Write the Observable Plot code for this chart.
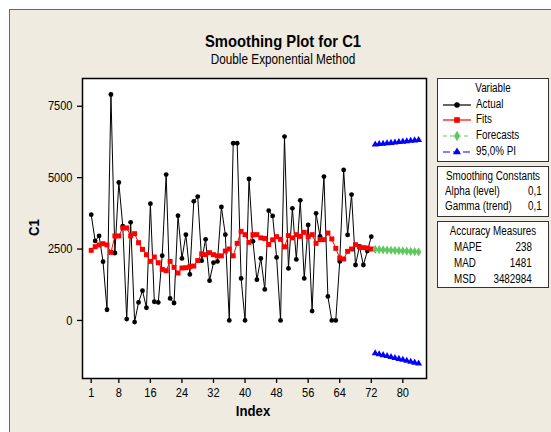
<!DOCTYPE html>
<html><head><meta charset="utf-8">
<script src="https://cdn.jsdelivr.net/npm/d3@7"></script>
<script src="https://cdn.jsdelivr.net/npm/@observablehq/plot@0.6"></script>
<style>
body{margin:0;background:#fff;}
#page{position:relative;width:551px;height:432px;overflow:hidden;background:#fff;font-family:"Liberation Sans",Arial,sans-serif;color:#000;}
#panel{position:absolute;left:9px;top:9px;width:560px;height:440px;background:#EFEBE1;border-left:1px solid #666;border-top:1px solid #666;}
#chart{position:absolute;left:0;top:0;}
.t{position:absolute;white-space:nowrap;line-height:1;}
.box{position:absolute;background:#fff;border:1.5px solid #333;box-sizing:border-box;}
</style></head>
<body><div id="page"><div id="panel"></div><div id="chart"></div></div>
<script>
const actual = [3705,2783,2958,2057,375,7911,2362,4830,3300,49,3435,-56,631,1041,445,4090,655,631,2268,5107,771,610,3670,2170,3004,1612,4171,4336,2093,2839,1392,2022,2068,3975,3004,0,6204,6204,1472,0,4956,2769,1427,2173,1087,3845,3659,2208,0,6439,1823,3926,2138,4206,1472,3344,329,3750,2944,5037,841,0,0,2068,5271,2993,4406,1941,2590,1941,2430,2934];
const fits = [2454,2583,2643,2688,2643,2383,2958,2958,3239,3239,2958,3039,2723,2489,2303,2068,2222,2022,1788,1742,2068,1858,1661,1837,1847,1882,1905,2098,2330,2303,2373,2303,2260,2260,2430,2502,2262,2699,3120,3004,2734,3004,3004,2893,2870,2660,2824,2934,2840,2577,2969,2890,3004,2944,3085,2934,3004,2699,2829,2829,3062,2853,2524,2187,2152,2419,2502,2653,2572,2548,2537,2502];
const forecastIndex = [73,74,75,76,77,78,79,80,81,82,83,84];
const forecasts = [2490,2482,2474,2466,2458,2450,2441,2433,2425,2417,2409,2400];
const upperPI = [6160,6175,6189,6204,6218,6233,6247,6262,6276,6291,6305,6320];
const lowerPI = [-1150,-1183,-1215,-1248,-1281,-1314,-1346,-1379,-1412,-1445,-1477,-1510];
const xTicks = [1,8,16,24,32,40,48,56,64,72,80];
const yTicks = [0,2500,5000,7500];
const title = "Smoothing Plot for C1";
const subtitle = "Double Exponential Method";
const xLabel = "Index", yLabel = "C1";
const legendTitle = "Variable";
const seriesNames = ["Actual","Fits","Forecasts","95,0% PI"];
const constNames = ["Alpha (level)","Gamma (trend)"], constVals = ["0,1","0,1"];
const accNames = ["MAPE","MAD","MSD"], accVals = ["238","1481","3482984"];

const F = '"Liberation Sans",Arial,sans-serif';
const A = actual.map((v,i)=>({i:i+1,v}));
const Fi = fits.map((v,i)=>({i:i+1,v}));
const Fc = forecasts.map((v,k)=>({i:forecastIndex[k],v}));
const Up = upperPI.map((v,k)=>({i:forecastIndex[k],v}));
const Lo = lowerPI.map((v,k)=>({i:forecastIndex[k],v}));
const GREEN = "#5ec85e";

const chart = Plot.plot({
  width:551, height:432,
  marginLeft:82, marginRight:125, marginTop:78, marginBottom:54,
  x:{domain:[-1.21,86.0]},
  y:{domain:[-2033,8472]},
  style:{background:"transparent",fontFamily:F,fontSize:"13px",color:"#000",overflow:"visible"},
  marks:[
    Plot.frame({fill:"white",stroke:null}),
    Plot.axisX({ticks:xTicks,tickSize:5,tickPadding:4,label:null,fontSize:13,strokeWidth:1.3,tickFormat:d3.format("d")}),
    Plot.axisY({ticks:yTicks,tickSize:5,tickPadding:5,label:null,fontSize:13,strokeWidth:1.3,tickFormat:d3.format("d")}),
    Plot.line(A,{x:"i",y:"v",stroke:"black",strokeWidth:1}),
    Plot.dot(A,{x:"i",y:"v",fill:"black",r:2.4,stroke:null}),
    Plot.line(Fi,{x:"i",y:"v",stroke:"red",strokeWidth:1}),
    Plot.dot(Fi,{x:"i",y:"v",fill:"red",symbol:"square",r:2.8,stroke:null}),
    Plot.line(Fc,{x:"i",y:"v",stroke:GREEN,strokeWidth:1,strokeDasharray:"4,3"}),
    Plot.dot(Fc,{x:"i",y:"v",fill:GREEN,symbol:"diamond",r:2.8,stroke:null}),
    Plot.line(Up,{x:"i",y:"v",stroke:"blue",strokeWidth:1}),
    Plot.dot(Up,{x:"i",y:"v",fill:"blue",symbol:"triangle",r:2.6,stroke:null}),
    Plot.line(Lo,{x:"i",y:"v",stroke:"blue",strokeWidth:1}),
    Plot.dot(Lo,{x:"i",y:"v",fill:"blue",symbol:"triangle",r:2.6,stroke:null}),
    Plot.frame({stroke:"black",strokeWidth:1.5})
  ]
});
document.getElementById("chart").appendChild(chart);
chart.querySelectorAll('g[aria-label$="tick label"] text').forEach(t=>{
  const L = t.getComputedTextLength();
  t.setAttribute("textLength", L*0.85);
  t.setAttribute("lengthAdjust","spacingAndGlyphs");
});

const page = document.getElementById("page");
function txt(s, x, y, opts={}){
  const d = document.createElement("div");
  d.className = "t";
  d.textContent = s;
  const size = opts.size||12, k = opts.k||0.82;
  d.style.fontSize = size+"px";
  if(opts.bold) d.style.fontWeight = "bold";
  d.style.top = (y - size*0.55)+"px";
  const a = opts.anchor||"start";
  if(a==="middle"){ d.style.left = x+"px"; d.style.transformOrigin="left center"; d.style.transform = (opts.rot?"rotate(-90deg) ":"")+`scaleX(${k}) translateX(-50%)`; }
  else if(a==="end"){ d.style.right = (551-x)+"px"; d.style.transformOrigin="right center"; d.style.transform=`scaleX(${k})`; }
  else { d.style.left = x+"px"; d.style.transformOrigin="left center"; d.style.transform=`scaleX(${k})`; }
  page.appendChild(d);
  return d;
}
function box(x,y,w,h){const b=document.createElement("div");b.className="box";b.style.left=x+"px";b.style.top=y+"px";b.style.width=w+"px";b.style.height=h+"px";page.appendChild(b);}

txt(title, 283, 42, {size:17,bold:true,anchor:"middle",k:0.87});
txt(subtitle, 283, 60, {size:14,anchor:"middle",k:0.84});
txt(xLabel, 253, 411, {size:15,bold:true,anchor:"middle",k:0.88});
txt(yLabel, 33, 228, {size:15,bold:true,anchor:"middle",rot:true,k:0.88});

box(437,78,112,84);
box(437,166,112,51);
box(437,221,112,67);
txt(legendTitle, 493, 89, {anchor:"middle"});
const sy = [105,120,136,152];
const sym = document.createElementNS("http://www.w3.org/2000/svg","svg");
sym.setAttribute("width",551); sym.setAttribute("height",432);
sym.style.position="absolute"; sym.style.left="0"; sym.style.top="0";
const colors = ["black","red",GREEN,"blue"];
const shapes = [d3.symbolCircle,d3.symbolSquare,d3.symbolDiamond,d3.symbolTriangle];
const sizes = [2.4,2.8,2.8,2.6];
const dashes = [null,null,"4,3","7,3"];
seriesNames.forEach((s,k)=>{
  const l = document.createElementNS("http://www.w3.org/2000/svg","line");
  l.setAttribute("x1",443); l.setAttribute("x2",471); l.setAttribute("y1",sy[k]); l.setAttribute("y2",sy[k]);
  l.setAttribute("stroke",colors[k]); l.setAttribute("stroke-width",1.2);
  if(dashes[k]) l.setAttribute("stroke-dasharray",dashes[k]);
  sym.appendChild(l);
  const p = document.createElementNS("http://www.w3.org/2000/svg","path");
  p.setAttribute("d", d3.symbol(shapes[k], Math.PI*sizes[k]*sizes[k]*1.3)());
  p.setAttribute("transform",`translate(457,${sy[k]})`);
  p.setAttribute("fill",colors[k]);
  sym.appendChild(p);
  txt(s, 476, sy[k]);
});
page.appendChild(sym);
txt("Smoothing Constants", 493, 177, {anchor:"middle"});
constNames.forEach((s,k)=>{ txt(s, 445, 192+k*14.5); txt(constVals[k], 542, 192+k*14.5, {anchor:"end"}); });
txt("Accuracy Measures", 493, 232, {anchor:"middle"});
accNames.forEach((s,k)=>{ txt(s, 454, 247.5+k*16); txt(accVals[k], 532, 247.5+k*16, {anchor:"end"}); });
</script></body></html>
